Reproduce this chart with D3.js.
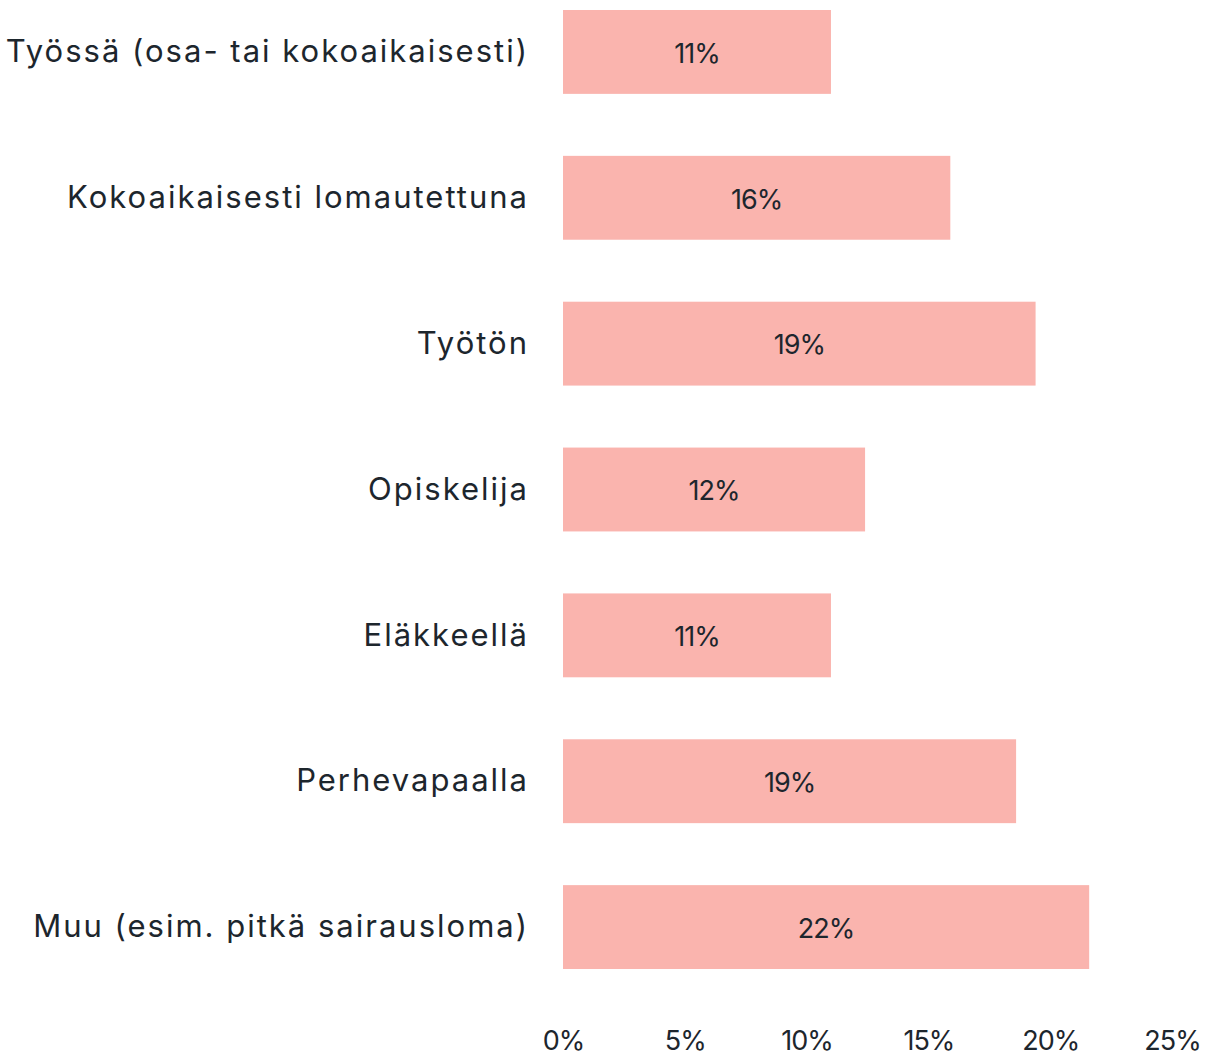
<!DOCTYPE html>
<html>
<head>
<meta charset="utf-8">
<script src="https://cdn.jsdelivr.net/npm/d3@7"></script>
<style>
  body { margin: 0; background: #fff; }
  text { font-family: "Inter", "Noto Sans", sans-serif; fill: #1d262d; }
</style>
</head>
<body>
<svg id="chart" width="1206" height="1058"></svg>
<script>
// categories top to bottom, values in percent
var categories = [
    "Työssä (osa- tai kokoaikaisesti)",
    "Kokoaikaisesti lomautettuna",
    "Työtön",
    "Opiskelija",
    "Eläkkeellä",
    "Perhevapaalla",
    "Muu (esim. pitkä sairausloma)"
];
var values = [11.0, 15.9, 19.4, 12.4, 11.0, 18.6, 21.6];
var valueLabels = ["11%", "16%", "19%", "12%", "11%", "19%", "22%"];
var ticks = [0, 5, 10, 15, 20, 25];

var svg = d3.select("#chart");

var x = d3.scaleLinear()
    .domain([0, 25])
    .range([563, 1172]);

var y = d3.scaleBand()
    .domain(categories)
    .range([10, 969])
    .paddingInner(0.425)
    .paddingOuter(0);

var data = categories.map(function(c, i) {
    return {cat: c, value: values[i], label: valueLabels[i]};
});

// bars
svg.selectAll("rect.bar")
    .data(data)
    .enter().append("rect")
    .attr("class", "bar")
    .attr("x", x(0))
    .attr("y", function(d) { return y(d.cat); })
    .attr("width", function(d) { return x(d.value) - x(0); })
    .attr("height", y.bandwidth())
    .attr("fill", "#fab4ae");

// value labels in the middle of each bar
svg.selectAll("text.val")
    .data(data)
    .enter().append("text")
    .attr("class", "val")
    .attr("x", function(d) { return (x(0) + x(d.value)) / 2; })
    .attr("y", function(d) { return y(d.cat) + y.bandwidth() / 2; })
    .attr("dy", "0.4em")
    .attr("text-anchor", "middle")
    .style("font-size", "27px")
    .style("letter-spacing", "-1px")
    .text(function(d) { return d.label; });

// category axis
var yAxis = svg.append("g")
    .attr("transform", "translate(529,0)")
    .call(d3.axisLeft(y).tickSize(0).tickPadding(0));
yAxis.select(".domain").remove();
yAxis.selectAll("text")
    .attr("dy", "0.33em")
    .style("font-size", "31px")
    .style("letter-spacing", "2px")
    .style("font-family", null)
    .attr("fill", null);

// value axis
var xAxis = svg.append("g")
    .attr("transform", "translate(0,1030)")
    .call(d3.axisBottom(x).tickValues(ticks).tickSize(0).tickPadding(0)
        .tickFormat(function(d) { return d + "%"; }));
xAxis.select(".domain").remove();
xAxis.selectAll("text")
    .attr("dy", "0.75em")
    .style("font-size", "27px")
    .style("letter-spacing", "-1px")
    .style("font-family", null)
    .attr("fill", null);
</script>
</body>
</html>
